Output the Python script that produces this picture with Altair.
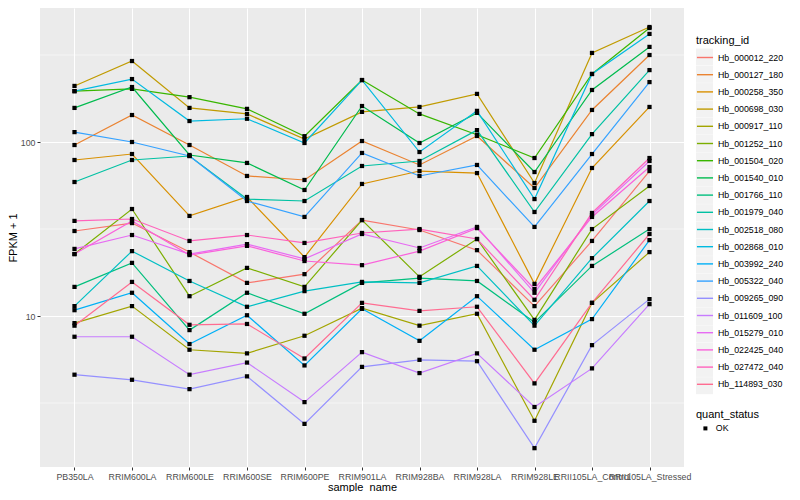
import altair as alt
import pandas as pd

samples = ["PB350LA", "RRIM600LA", "RRIM600LE", "RRIM600SE", "RRIM600PE", "RRIM901LA",
           "RRIM928BA", "RRIM928LA", "RRIM928LE", "RRII105LA_Control", "RRII105LA_Stressed"]

tracking_ids = ["Hb_000012_220", "Hb_000127_180", "Hb_000258_350", "Hb_000698_030",
                "Hb_000917_110", "Hb_001252_110", "Hb_001504_020", "Hb_001540_010",
                "Hb_001766_110", "Hb_001979_040", "Hb_002518_080", "Hb_002868_010",
                "Hb_003992_240", "Hb_005322_040", "Hb_009265_090", "Hb_011609_100",
                "Hb_015279_010", "Hb_022425_040", "Hb_027472_040", "Hb_114893_030"]

colors = ["#F8766D", "#EA8331", "#D89000", "#C09B00", "#A3A500", "#7CAE00", "#39B600",
          "#00BB4E", "#00BF7D", "#00C1A3", "#00BFC4", "#00BAE0", "#00B0F6", "#35A2FF",
          "#9590FF", "#C77CFF", "#E76BF3", "#FA62DB", "#FF62BC", "#FF6C91"]

# FPKM + 1 per sample (order of `samples`)
Hb_000012_220 = [30.8, 34.2, 23.3, 15.5, 17.4, 35.6, 31.2, 23.9, 11.4, 27.0, 68.1]
Hb_000127_180 = [96.1, 142.9, 96.1, 63.8, 60.5, 101.3, 73.8, 108.3, 54.4, 152.8, 316.2]
Hb_000258_350 = [78.8, 85.3, 37.6, 48.3, 21.8, 57.4, 68.1, 66.3, 15.3, 70.9, 159.0]
Hb_000698_030 = [210.0, 292.0, 157.0, 145.0, 104.0, 149.0, 159.0, 189.0, 58.1, 325.0, 458.0]
Hb_000917_110 = [9.1, 11.4, 6.4, 6.1, 7.7, 11.1, 8.8, 10.3, 2.5, 11.9, 23.3]
Hb_001252_110 = [22.7, 41.2, 13.0, 18.9, 14.7, 35.6, 16.8, 27.7, 9.5, 31.6, 55.9]
Hb_001504_020 = [196.0, 202.0, 181.0, 155.0, 108.0, 227.0, 145.0, 110.0, 80.9, 246.0, 452.0]
Hb_001540_010 = [157.0, 207.0, 84.2, 75.8, 53.0, 161.0, 98.7, 147.0, 67.2, 199.0, 352.0]
Hb_001766_110 = [14.7, 20.2, 8.3, 13.6, 10.3, 15.5, 16.5, 15.9, 9.2, 19.4, 31.6]
Hb_001979_040 = [58.9, 78.8, 83.1, 47.0, 45.8, 72.8, 77.8, 117.0, 39.6, 111.0, 259.0]
Hb_002518_080 = [11.4, 23.6, 15.9, 11.3, 13.9, 15.7, 15.5, 19.4, 8.8, 21.5, 45.8]
Hb_002868_010 = [196.0, 230.0, 132.0, 136.0, 98.7, 227.0, 87.6, 151.0, 47.0, 246.0, 418.0]
Hb_003992_240 = [10.8, 13.6, 6.9, 10.1, 5.2, 11.0, 7.2, 13.0, 6.4, 9.6, 27.3]
Hb_005322_040 = [114.0, 100.0, 83.1, 45.8, 37.1, 86.5, 63.8, 73.8, 32.5, 85.3, 221.0]
Hb_009265_090 = [4.6, 4.3, 3.8, 4.5, 2.4, 5.1, 5.6, 5.5, 1.74, 6.8, 12.5]
Hb_011609_100 = [7.6, 7.6, 4.6, 5.4, 3.2, 6.2, 4.7, 6.1, 3.0, 5.0, 11.7]
Hb_015279_010 = [24.3, 29.2, 22.7, 25.9, 21.3, 29.6, 24.6, 32.5, 13.6, 38.1, 77.8]
Hb_022425_040 = [22.7, 35.2, 22.4, 25.3, 20.7, 19.6, 23.6, 32.0, 14.3, 37.1, 71.8]
Hb_027472_040 = [35.2, 36.1, 27.0, 29.2, 26.3, 30.0, 31.6, 27.7, 12.4, 39.1, 80.9]
Hb_114893_030 = [8.8, 15.7, 8.9, 9.0, 5.7, 11.9, 10.7, 11.3, 4.1, 11.9, 29.6]

series = [Hb_000012_220, Hb_000127_180, Hb_000258_350, Hb_000698_030, Hb_000917_110,
          Hb_001252_110, Hb_001504_020, Hb_001540_010, Hb_001766_110, Hb_001979_040,
          Hb_002518_080, Hb_002868_010, Hb_003992_240, Hb_005322_040, Hb_009265_090,
          Hb_011609_100, Hb_015279_010, Hb_022425_040, Hb_027472_040, Hb_114893_030]

y_major = [10, 100]
y_minor = [3.1623, 31.623, 316.23]

key_ids = [t + "_key" for t in tracking_ids]

rows = []
for tid, key, vals in zip(tracking_ids, key_ids, series):
    for s, v in zip(samples, vals):
        rows.append({"tracking_id": tid, "sample_name": s, "fpkm": v, "quant_status": "OK",
                     "tid_key": key, "qs_key": "OK_key"})
df = pd.DataFrame(rows)

FONT = "Liberation Sans"
KEY_BG = "#F2F2F2"
yscale = alt.Scale(type="log", domain=[1.356, 589], nice=False)

x_axis = alt.Axis(title="sample_name", labelAngle=0, labelOverlap=False, domain=False,
                  tickColor="#333333", tickSize=3, tickWidth=1, labelColor="#4D4D4D",
                  labelFontSize=8.8, labelPadding=2, labelFont=FONT,
                  titleFont=FONT, titleFontSize=11, titleFontWeight="normal",
                  titleColor="black", titleBaseline="middle", titleY=20,
                  grid=True, gridColor="white", gridWidth=1.07)
y_axis = alt.Axis(title="FPKM + 1", values=y_major, format="d", domain=False,
                  tickColor="#333333", tickSize=3, tickWidth=1, labelColor="#4D4D4D",
                  labelFontSize=8.8, labelPadding=2, labelFont=FONT,
                  titleFont=FONT, titleFontSize=11, titleFontWeight="normal",
                  titleColor="black", titleAngle=270, titleBaseline="middle",
                  titleAlign="center", titleX=-26.5, titleY=229.5,
                  grid=True, gridColor="white", gridWidth=1.07)

x_enc = alt.X("sample_name:N", sort=samples,
              scale=alt.Scale(type="point", padding=0.6), axis=x_axis)
y_enc = alt.Y("fpkm:Q", scale=yscale, axis=y_axis)

common_legend = dict(titleFont=FONT, titleFontSize=11, titleFontWeight="normal",
                     titleColor="black", labelFont=FONT, labelFontSize=8.8,
                     labelColor="black", padding=0)

minor_df = pd.DataFrame({"g": y_minor})
minor = alt.Chart(minor_df).mark_rule(color="white", strokeWidth=0.55).encode(
    y=alt.Y("g:Q", scale=yscale, axis=y_axis)
)

# grey key backgrounds of the legends (no marks drawn)
keys_bg = alt.Chart(df).transform_filter("false").mark_point(
    shape="square", filled=True, opacity=1
).encode(
    x=x_enc, y=y_enc,
    fill=alt.Fill(
        "tid_key:N", scale=alt.Scale(domain=key_ids, range=[KEY_BG] * len(key_ids)),
        legend=alt.Legend(title=" ", orient="none", legendX=656, legendY=27,
                          titlePadding=2.5, labelExpr="''",
                          symbolType="square", symbolSize=289, symbolStrokeWidth=0,
                          rowPadding=0.3, labelOffset=4, zindex=0, **common_legend),
    ),
    size=alt.Size(
        "qs_key:O", scale=alt.Scale(domain=["OK_key"], range=[289]),
        legend=alt.Legend(title=" ", orient="none", legendX=656, legendY=400.5,
                          titlePadding=1, labelExpr="''",
                          symbolType="square", symbolFillColor=KEY_BG,
                          symbolStrokeWidth=0, zindex=0, **common_legend),
    ),
)

lines = alt.Chart(df).mark_line(strokeWidth=1.2).encode(
    x=x_enc, y=y_enc,
    color=alt.Color(
        "tracking_id:N",
        scale=alt.Scale(domain=tracking_ids, range=colors),
        legend=alt.Legend(title="tracking_id", orient="none", legendX=656, legendY=27,
                          titlePadding=2.5, symbolType="stroke", symbolSize=259,
                          symbolStrokeWidth=1.4, rowPadding=3.2, labelOffset=4,
                          zindex=1, **common_legend),
    ),
)

points = alt.Chart(df).mark_point(filled=True, size=18, color="black", opacity=1).encode(
    x=x_enc, y=y_enc,
    shape=alt.Shape(
        "quant_status:N", scale=alt.Scale(range=["square"]),
        legend=alt.Legend(title="quant_status", orient="none", legendX=656, legendY=400.5,
                          titlePadding=4.5, symbolFillColor="black", symbolStrokeColor="black",
                          symbolSize=16, symbolOffset=5, labelOffset=6, zindex=1,
                          **common_legend),
    ),
)

chart = alt.layer(minor, keys_bg, lines, points).properties(
    width=644, height=459,
    autosize=alt.AutoSizeParams(type="none"),
    padding={"left": 32, "top": 0, "right": 108, "bottom": 25},
).configure(font=FONT).configure_view(fill="#EBEBEB", stroke=None)

chart.save("out.html", embed_options={"renderer": "svg", "actions": False})
